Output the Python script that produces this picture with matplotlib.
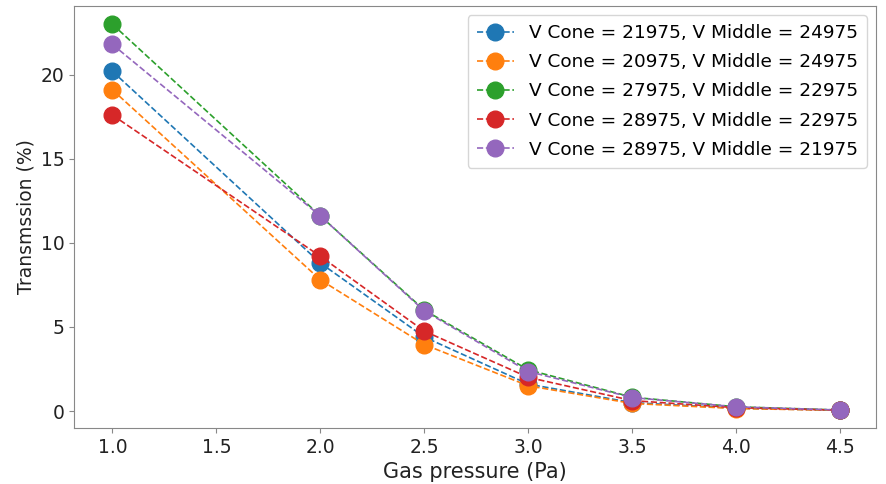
import matplotlib.pyplot as plt

# gas pressure (Pa) and transmission (%) for each voltage setting
pressure = [1.0, 2.0, 2.5, 3.0, 3.5, 4.0, 4.5]

t_21975_24975 = [20.2, 8.8, 4.4, 1.6, 0.5, 0.17, 0.05]
t_20975_24975 = [19.1, 7.8, 3.95, 1.5, 0.45, 0.15, 0.04]
t_27975_22975 = [23.0, 11.6, 6.0, 2.45, 0.82, 0.25, 0.06]
t_28975_22975 = [17.6, 9.2, 4.75, 2.0, 0.62, 0.2, 0.05]
t_28975_21975 = [21.8, 11.6, 5.95, 2.35, 0.8, 0.25, 0.06]

labels = [
    "V Cone = 21975, V Middle = 24975",
    "V Cone = 20975, V Middle = 24975",
    "V Cone = 27975, V Middle = 22975",
    "V Cone = 28975, V Middle = 22975",
    "V Cone = 28975, V Middle = 21975",
]
series = [t_21975_24975, t_20975_24975, t_27975_22975, t_28975_22975, t_28975_21975]

fig, ax = plt.subplots(figsize=(8.86, 4.84), dpi=100)
fig.subplots_adjust(left=0.084, right=0.989, top=0.988, bottom=0.116)

for y, lab in zip(series, labels):
    ax.plot(pressure, y, '--o', markersize=12, linewidth=1.2, label=lab)

ax.set_xticks([1.0, 1.5, 2.0, 2.5, 3.0, 3.5, 4.0, 4.5])
ax.set_xlim(0.817, 4.673)
ax.set_ylim(-1.0, 24.1)
ax.set_yticks([0, 5, 10, 15, 20])
ax.tick_params(labelsize=13.5, color='#888888', labelcolor='#222222')
for s in ax.spines.values():
    s.set_color('#888888')
ax.set_xlabel("Gas pressure (Pa)", fontsize=15, color='#222222')
ax.set_ylabel("Transmssion (%)", fontsize=13.5, color='#222222')
ax.legend(fontsize=13.3, loc='upper right', handlelength=2.0,
          borderaxespad=0.5, labelspacing=0.6, borderpad=0.5)

fig.savefig('out.png')
